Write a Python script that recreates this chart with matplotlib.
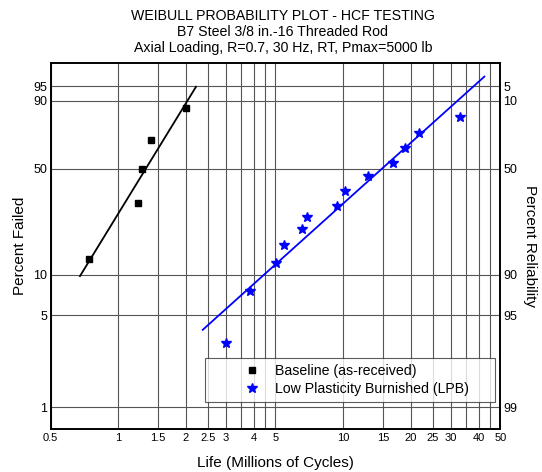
import numpy as np
import matplotlib
matplotlib.use('Agg')
import matplotlib.pyplot as plt
from matplotlib.ticker import FixedLocator, FixedFormatter, NullLocator

plt.rcParams['font.family'] = ['Liberation Sans', 'DejaVu Sans']

# Baseline (as-received) specimens: life in millions of cycles, median rank in %
baseline_life = [0.744, 1.228, 1.271, 1.403, 1.995]
baseline_pct = [13.0, 31.5, 50.0, 68.5, 87.0]

# Low Plasticity Burnished (LPB) specimens
lpb_life = [3.01, 3.86, 5.01, 5.46, 6.54, 6.90, 9.35, 10.21, 12.85, 16.6, 18.87, 21.65, 33.0]
lpb_pct = [3.1, 7.6, 12.1, 16.5, 21.0, 25.5, 30.0, 37.2, 45.5, 53.2, 62.9, 72.6, 82.1]

# Weibull fit lines (end points)
baseline_fit_life = [0.676, 2.216]
baseline_fit_pct = [9.8, 94.8]
lpb_fit_life = [2.374, 42.4]
lpb_fit_pct = [3.9, 97.1]

# Axis ticks
x_grid = [0.5, 1, 1.5, 2, 2.5, 3, 3.5, 4, 4.5, 5, 10, 15, 20, 25, 30, 35, 40, 45, 50]
x_labels = ['0.5', '1', '1.5', '2', '2.5', '3', '', '4', '', '5',
            '10', '15', '20', '25', '30', '', '40', '', '50']
failed_ticks = [1, 5, 10, 50, 90, 95]
failed_labels = ['1', '5', '10', '50', '90', '95']
reliab_labels = ['99', '95', '90', '50', '10', '5']


def weibull_fwd(p):
    p = np.clip(np.asarray(p, dtype=float), 1e-6, 100 - 1e-6)
    return np.log(-np.log(1 - p / 100.0))


def weibull_inv(w):
    w = np.asarray(w, dtype=float)
    return 100.0 * (1 - np.exp(-np.exp(w)))


GRID = '#555555'

fig = plt.figure(figsize=(5.42, 4.72), dpi=100)
ax = fig.add_axes([0.0932, 0.0905, 0.8302, 0.7754])

ax.set_xscale('log')
ax.set_yscale('function', functions=(weibull_fwd, weibull_inv))
ax.set_xlim(0.5, 50)
ax.set_ylim(0.68, 98.87)

ax.xaxis.set_major_locator(FixedLocator(x_grid))
ax.xaxis.set_major_formatter(FixedFormatter(x_labels))
ax.xaxis.set_minor_locator(NullLocator())
ax.yaxis.set_major_locator(FixedLocator(failed_ticks))
ax.yaxis.set_major_formatter(FixedFormatter(failed_labels))
ax.yaxis.set_minor_locator(NullLocator())

ax.grid(True, color=GRID, linewidth=0.8)
ax.set_axisbelow(True)
ax.tick_params(axis='x', length=0, pad=3, labelsize=8)
ax.tick_params(axis='y', length=0, pad=2.5, labelsize=9)

# data and fits
ax.plot(baseline_fit_life, baseline_fit_pct, color='black', linewidth=1.3, zorder=3)
ax.plot(lpb_fit_life, lpb_fit_pct, color='#0000FF', linewidth=1.3, zorder=3)
ax.plot(baseline_life, baseline_pct, linestyle='none', marker='s', markersize=4.5,
        color='black', label='Baseline (as-received)', zorder=4)
ax.plot(lpb_life, lpb_pct, linestyle='none', marker='*', markersize=7,
        color='#0000FF', label='Low Plasticity Burnished (LPB)', zorder=4)

for s in ax.spines.values():
    s.set_linewidth(1.2)

ax.set_xlabel('Life (Millions of Cycles)', fontsize=11, labelpad=9)
ax.set_ylabel('Percent Failed', fontsize=11, labelpad=4)

# right axis: percent reliability
ax2 = ax.twinx()
ax2.set_yscale('function', functions=(weibull_fwd, weibull_inv))
ax2.set_ylim(ax.get_ylim())
ax2.yaxis.set_major_locator(FixedLocator(failed_ticks))
ax2.yaxis.set_major_formatter(FixedFormatter(reliab_labels))
ax2.yaxis.set_minor_locator(NullLocator())
ax2.tick_params(axis='y', length=0, pad=2, labelsize=9)
ax2.set_ylabel('Percent Reliability', fontsize=11, rotation=270, labelpad=14)
for s in ax2.spines.values():
    s.set_linewidth(1.2)

leg = ax.legend(loc='upper left', bbox_to_anchor=(0.3433, 0.0754, 0.6445, 0.1202),
                mode='expand', fontsize=10.2, frameon=True, fancybox=False,
                borderpad=0.45, handlelength=5.8, handletextpad=-1.3,
                labelspacing=0.28, borderaxespad=0, numpoints=1)
leg.get_frame().set_edgecolor('#333333')
leg.get_frame().set_linewidth(0.8)
leg.set_zorder(10)

fig.text(0.522, 0.9316,
         'WEIBULL PROBABILITY PLOT - HCF TESTING\n'
         'B7 Steel 3/8 in.-16 Threaded Rod\n'
         'Axial Loading, R=0.7, 30 Hz, RT, Pmax=5000 lb',
         ha='center', va='center', multialignment='center',
         fontsize=10.2, linespacing=1.2)

fig.savefig('out.png', dpi=100)
